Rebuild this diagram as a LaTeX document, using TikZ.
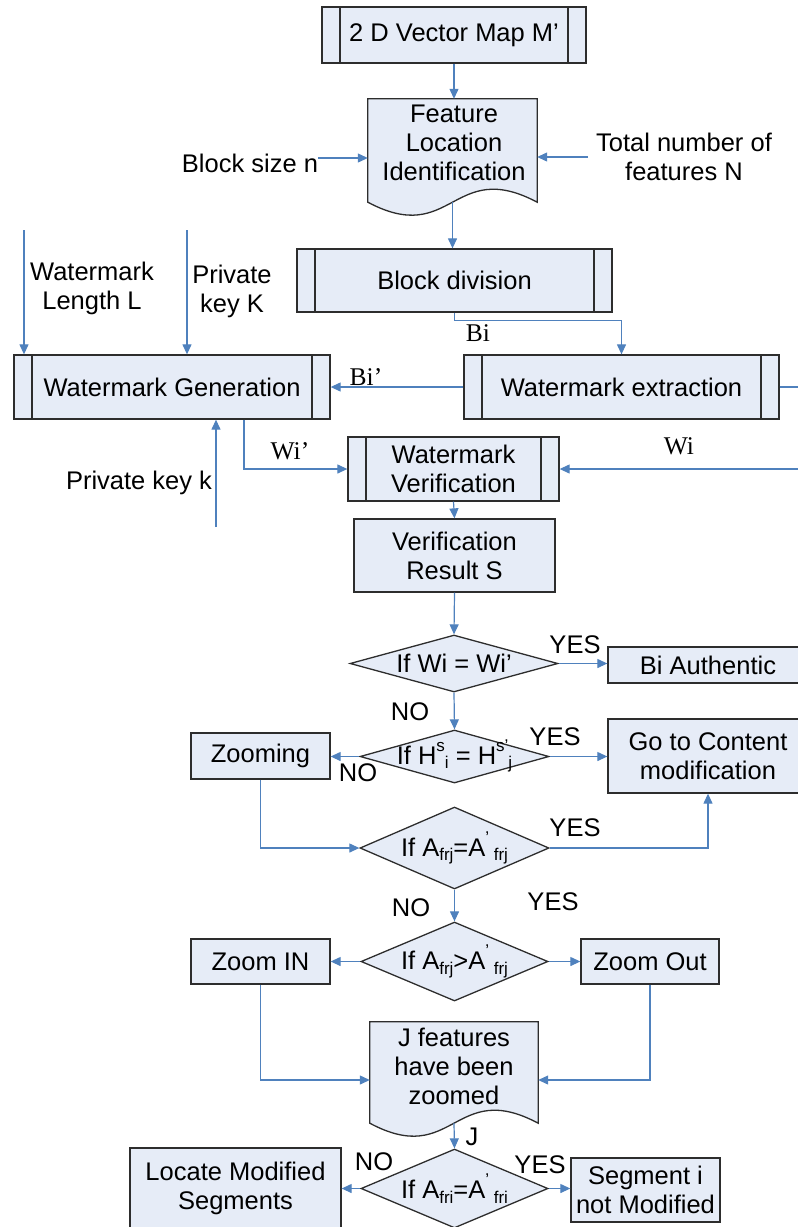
\documentclass[tikz,border=0pt]{standalone}
\usepackage{fontspec}
\setmainfont{Liberation Sans}
\newfontfamily\serfont{Liberation Serif}
\usetikzlibrary{shapes.geometric,arrows.meta,calc}
\definecolor{boxfill}{RGB}{230,236,247}
\definecolor{boxline}{RGB}{45,45,45}
\definecolor{conncol}{RGB}{79,129,189}
\newcommand\supx[1]{\raisebox{0.5em}{\fontsize{17}{17}\selectfont #1}}
\newcommand\subx[1]{\raisebox{-0.18em}{\fontsize{17}{17}\selectfont #1}}
\begin{document}
\begin{tikzpicture}[x=1pt,y=-1pt,
 every node/.style={font=\fontsize{25.5}{29}\selectfont},
 box/.style={draw=boxline,fill=boxfill,line width=1.3pt,inner sep=0,align=center},
 proc/.style={box,path picture={\draw[boxline,line width=1.3pt]
   ([xshift=18pt]path picture bounding box.north west) -- ([xshift=18pt]path picture bounding box.south west)
   ([xshift=-18pt]path picture bounding box.north east) -- ([xshift=-18pt]path picture bounding box.south east);}},
 docgeo/.style={inner sep=0},
 docshape/.style={draw=boxline,fill=boxfill,line width=1.3pt},
 dec/.style={diamond,draw=boxline,fill=boxfill,line width=1.3pt,inner sep=0},
 txt/.style={inner sep=0,align=center},
 conn/.style={draw=conncol,line width=1.2pt,-{Triangle[length=10pt,width=9pt]}},
 plain/.style={draw=conncol,line width=1.2pt},
 slbl/.style={inner sep=0,font=\serfont\fontsize{25.5}{29}\selectfont},
]
\useasboundingbox (0,0) rectangle (798,1227);
\clip (0,0) rectangle (798,1227);

% ---------- top ----------
\node[proc,minimum width=264,minimum height=56] (map) at (454,35) {2 D Vector Map M’};

\node[docgeo,minimum width=169,minimum height=103] (fli) at (452.5,150.5) {};
\path[docshape] (fli.north west) -- (fli.north east) -- (fli.south east)
  .. controls ($(fli.south)+(0,-45)$) and ($(fli.south)+(0,45)$) .. (fli.south west) -- cycle;
\node[txt] (flit) at (454,143) {Feature\\Location\\Identification};

\node[txt] (bsnl) at (250,163) {Block size n};
\coordinate (bsn) at (318,158);
\node[txt] (tnfl) at (684,157) {Total number of\\features N};
\coordinate (tnf) at (588,157);

\node[proc,minimum width=315,minimum height=63] (blk) at (454.5,280.5) {Block division};
\node[proc,minimum width=315,minimum height=64] (ext) at (621.5,387) {Watermark extraction};
\node[proc,minimum width=316,minimum height=64] (gen) at (172,387) {Watermark Generation};
\node[proc,minimum width=211,minimum height=64] (ver) at (453.5,469) {Watermark\\Verification};
\node[box,minimum width=201,minimum height=73] (res) at (454.5,555.5) {Verification\\Result S};

\node[txt] (wll) at (92,288) {Watermark\\Length L};
\coordinate (wlIn) at (24,230);
\node[txt] (pkl) at (232,291) {Private\\key K};
\coordinate (pkIn) at (187,230);
\node[txt] (pkkl) at (139,483) {Private key k};
\coordinate (pkk) at (216,527);
\coordinate (extR) at (798,387);
\coordinate (wiIn) at (798,469);

\node[slbl] (bil) at (478,333) {Bi};
\node[slbl] (bipl) at (366,377) {Bi’};
\node[slbl] (wipl) at (290,451) {Wi’};
\node[slbl] (wil) at (679,446) {Wi};

% ---------- decisions ----------
\node[dec,minimum width=208,minimum height=57] (d1) at (454,663.5) {};
\node[txt] (d1t) at (d1) {If Wi = Wi’};
\node[box,minimum width=200,minimum height=36] (ba) at (708,665) {Bi Authentic};

\node[dec,minimum width=189,minimum height=53] (d2) at (454.5,756.5) {};
\node[txt] (d2t) at (454.5,756) {If H\supx{s}\subx{i} = H\supx{s’}\subx{j}};
\node[box,minimum width=139,minimum height=46] (zm) at (260.5,756) {Zooming};
\node[box,minimum width=200,minimum height=74] (gc) at (708,756) {Go to Content\\modification};

\node[dec,minimum width=189,minimum height=82] (d3) at (454.5,848) {};
\node[txt] (d3t) at (454.5,848) {If A\subx{frj}=A\supx{’}\subx{ frj}};

\node[dec,minimum width=187,minimum height=79] (d4) at (454.5,961.5) {};
\node[txt] (d4t) at (454.5,961.5) {If A\subx{frj}>A\supx{’}\subx{ frj}};
\node[box,minimum width=139,minimum height=45] (zi) at (260.5,961.5) {Zoom IN};
\node[box,minimum width=138,minimum height=45] (zo) at (650,961.5) {Zoom Out};

\node[docgeo,minimum width=168,minimum height=101] (jd) at (454,1072.5) {};
\path[docshape] (jd.north west) -- (jd.north east) -- (jd.south east)
  .. controls ($(jd.south)+(0,-45)$) and ($(jd.south)+(0,45)$) .. (jd.south west) -- cycle;
\node[txt] (jdt) at (454,1066.5) {J features\\have been\\zoomed};

\node[dec,minimum width=187,minimum height=79] (d5) at (454.5,1188.5) {};
\node[txt] (d5t) at (454.5,1188.5) {If A\subx{fri}=A\supx{’}\subx{ fri}};
\node[box,minimum width=211,minimum height=84] (lm) at (235.5,1190) {};
\node[txt] (lmt) at (235.5,1188) {Locate Modified\\Segments};
\node[box,minimum width=149,minimum height=64] (sg) at (645.5,1190) {Segment i\\not Modified};

% labels
\node[txt] (y1) at (575,645) {YES};
\node[txt] (n1) at (410,712) {NO};
\node[txt] (y2) at (555,737) {YES};
\node[txt] (n2) at (358,773) {NO};
\node[txt] (y3) at (575,828) {YES};
\node[txt] (n3) at (411,908) {NO};
\node[txt] (y4) at (553,902) {YES};
\node[txt] (jl) at (472,1137) {J};
\node[txt] (n5) at (374,1162) {NO};
\node[txt] (y5) at (540,1165) {YES};

% ---------- connectors ----------
\draw[conn] (map.south) -- (map.south |- fli.north);
\draw[conn] (bsn) -- (bsn -| fli.west);
\draw[conn] (tnf) -- (tnf -| fli.east);
\draw[conn] (fli.south) -- (fli.south |- blk.north);
\draw[conn] (blk.south) -- ++(0,8) -| (ext.north);
\draw[conn] (ext.west) -- (gen.east);
\draw[plain] (ext.east) -- (extR);
\draw[conn] (wlIn) -- (wlIn |- gen.north);
\draw[conn] (pkIn) -- (pkIn |- gen.north);
\draw[conn] (pkk) -- (pkk |- gen.south);
\draw[conn] ([xshift=72pt]gen.south) |- (ver.west);
\draw[conn] (wiIn) -- (ver.east);
\draw[conn] (ver.south) -- (res.north);
\draw[conn] (res.south) -- (d1.north);
\draw[conn] (d1.east) -- (d1.east -| ba.west);
\draw[conn] (d1.south) -- (d2.north);
\draw[conn] (d2.west) -- (d2.west -| zm.east);
\draw[conn] (d2.east) -- (d2.east -| gc.west);
\draw[conn] (zm.south) |- (d3.west);
\draw[conn] (d3.east) -| (gc.south);
\draw[conn] (d3.south) -- (d4.north);
\draw[conn] (d4.west) -- (zi.east);
\draw[conn] (d4.east) -- (zo.west);
\draw[conn] (zi.south) |- ($(jd.west)+(0,7.5)$);
\draw[conn] (zo.south) |- ($(jd.east)+(0,7.5)$);
\draw[conn] (jd.south) -- (d5.north);
\draw[conn] (d5.west) -- (d5.west -| lm.east);
\draw[conn] (d5.east) -- (d5.east -| sg.west);
\end{tikzpicture}
\end{document}
